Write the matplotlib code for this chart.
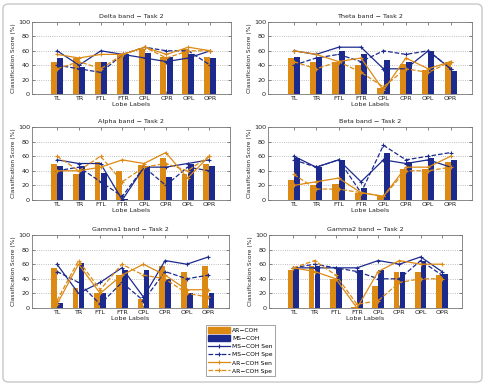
import matplotlib
matplotlib.use("Agg")
import matplotlib.pyplot as plt
import numpy as np
from matplotlib.patches import Patch, FancyBboxPatch
from matplotlib.lines import Line2D

lobes = ["TL", "TR", "FTL", "FTR", "CPL", "CPR", "OPL", "OPR"]

# each band: AR-COH bar, MS-COH bar, MS Sen, MS Spe, AR Sen, AR Spe
delta_ar = [45, 50, 45, 55, 62, 52, 62, 52]
delta_ms = [50, 37, 45, 55, 57, 52, 55, 50]
delta_ms_sen = [60, 40, 60, 55, 50, 45, 50, 60]
delta_ms_spe = [40, 35, 30, 55, 65, 60, 60, 40]
delta_ar_sen = [55, 50, 55, 55, 65, 55, 65, 60]
delta_ar_spe = [35, 45, 35, 55, 65, 50, 60, 60]

theta_ar = [50, 45, 45, 40, 8, 42, 33, 45]
theta_ms = [52, 52, 60, 55, 47, 45, 60, 32]
theta_ms_sen = [60, 55, 65, 65, 35, 35, 60, 35]
theta_ms_spe = [40, 50, 55, 45, 60, 55, 60, 35]
theta_ar_sen = [60, 55, 45, 50, 5, 50, 35, 45]
theta_ar_spe = [45, 35, 45, 30, 10, 35, 30, 45]

alpha_ar = [50, 35, 52, 40, 48, 57, 35, 50]
alpha_ms = [47, 47, 37, 2, 47, 32, 50, 47]
alpha_ms_sen = [55, 50, 50, 0, 45, 45, 50, 55]
alpha_ms_spe = [40, 45, 25, 5, 45, 20, 45, 40]
alpha_ar_sen = [40, 40, 45, 55, 50, 65, 30, 60]
alpha_ar_spe = [60, 40, 60, 25, 45, 50, 40, 60]

beta_ar = [27, 20, 22, 10, 5, 42, 42, 52]
beta_ms = [57, 45, 55, 17, 65, 52, 57, 55]
beta_ms_sen = [60, 45, 55, 25, 55, 50, 55, 45]
beta_ms_spe = [55, 45, 55, 10, 75, 55, 60, 65]
beta_ar_sen = [20, 25, 30, 10, 5, 45, 45, 60]
beta_ar_spe = [35, 15, 15, 10, 5, 40, 40, 45]

gamma1_ar = [55, 27, 20, 45, 12, 57, 50, 57]
gamma1_ms = [7, 62, 20, 52, 52, 40, 20, 20]
gamma1_ms_sen = [60, 20, 35, 55, 15, 65, 60, 70]
gamma1_ms_spe = [50, 35, 5, 35, 10, 50, 40, 45]
gamma1_ar_sen = [5, 60, 20, 45, 60, 45, 25, 25]
gamma1_ar_spe = [10, 65, 25, 60, 45, 40, 20, 15]

gamma2_ar = [52, 57, 40, 2, 30, 50, 50, 45]
gamma2_ms = [55, 57, 55, 52, 52, 50, 65, 47]
gamma2_ms_sen = [55, 55, 55, 55, 65, 60, 70, 50]
gamma2_ms_spe = [55, 60, 55, 50, 40, 40, 65, 45]
gamma2_ar_sen = [55, 50, 40, 0, 50, 65, 60, 60]
gamma2_ar_spe = [55, 65, 45, 5, 10, 35, 40, 40]

ORANGE = "#DC8A14"
BLUE = "#1C2A8E"
FS = 4.6


def draw_panel(ax, title, ar, ms, ms_sen, ms_spe, ar_sen, ar_spe):
    x = np.arange(len(lobes))
    ax.bar(x - 0.14, ar, width=0.27, color=ORANGE, edgecolor="none", zorder=2)
    ax.bar(x + 0.14, ms, width=0.27, color=BLUE, edgecolor="none", zorder=2)
    kw = dict(marker="+", markersize=3, markeredgewidth=0.8, linewidth=0.9, zorder=3)
    ax.plot(x, ms_sen, color=BLUE, linestyle="-", **kw)
    ax.plot(x, ms_spe, color=BLUE, linestyle="--", **kw)
    ax.plot(x, ar_sen, color=ORANGE, linestyle="-", **kw)
    ax.plot(x, ar_spe, color=ORANGE, linestyle="--", **kw)
    ax.set_xlim(-1.15, 7.95)
    ax.set_ylim(0, 100)
    ax.set_xticks(x)
    ax.set_xticklabels(lobes)
    ax.set_yticks([0, 20, 40, 60, 80, 100])
    ax.yaxis.grid(True, linestyle=":", color="#AAAAAA", linewidth=0.6, zorder=0)
    ax.set_axisbelow(True)
    ax.tick_params(direction="in", labelsize=FS, length=2, width=0.5,
                   top=True, right=True, pad=1.5, colors="#555555", labelcolor="#222222")
    for s in ax.spines.values():
        s.set_color("#777777")
        s.set_linewidth(0.6)
    ax.set_title(title, fontsize=FS, pad=3, color="#222222")
    ax.set_xlabel("Lobe Labels", fontsize=FS, labelpad=0.5, color="#222222")
    ax.set_ylabel("Classification Score (%)", fontsize=4.2, labelpad=1.5, color="#222222")


W, H = 487, 385
fig = plt.figure(figsize=(W / 100, H / 100), dpi=100)


def px_axes(left, right, top, bottom):
    return fig.add_axes([left / W, 1 - bottom / H, (right - left) / W, (bottom - top) / H])


border = FancyBboxPatch((3 / W, 3 / H), 479 / W, 378 / H, boxstyle="round,pad=0,rounding_size=0.012",
                        transform=fig.transFigure, facecolor="none", edgecolor="#C8C8C8",
                        linewidth=1.0)
fig.patches.append(border)

panels = [
    ((32, 231, 22, 94), "Delta band − Task 2", delta_ar, delta_ms, delta_ms_sen, delta_ms_spe, delta_ar_sen, delta_ar_spe),
    ((268, 472, 22, 94), "Theta band − Task 2", theta_ar, theta_ms, theta_ms_sen, theta_ms_spe, theta_ar_sen, theta_ar_spe),
    ((32, 230, 127, 200), "Alpha band − Task 2", alpha_ar, alpha_ms, alpha_ms_sen, alpha_ms_spe, alpha_ar_sen, alpha_ar_spe),
    ((268, 472, 127, 200), "Beta band − Task 2", beta_ar, beta_ms, beta_ms_sen, beta_ms_spe, beta_ar_sen, beta_ar_spe),
    ((32, 229, 235, 308), "Gamma1 band − Task 2", gamma1_ar, gamma1_ms, gamma1_ms_sen, gamma1_ms_spe, gamma1_ar_sen, gamma1_ar_spe),
    ((269, 462, 235, 308), "Gamma2 band − Task 2", gamma2_ar, gamma2_ms, gamma2_ms_sen, gamma2_ms_spe, gamma2_ar_sen, gamma2_ar_spe),
]

for box, title, *series in panels:
    ax = px_axes(*box)
    draw_panel(ax, title, *series)

lkw = dict(marker="+", markersize=3, markeredgewidth=0.8, linewidth=0.9)
handles = [
    Patch(color=ORANGE, label="AR−COH"),
    Patch(color=BLUE, label="MS−COH"),
    Line2D([], [], color=BLUE, linestyle="-", label="MS−COH Sen", **lkw),
    Line2D([], [], color=BLUE, linestyle="--", label="MS−COH Spe", **lkw),
    Line2D([], [], color=ORANGE, linestyle="-", label="AR−COH Sen", **lkw),
    Line2D([], [], color=ORANGE, linestyle="--", label="AR−COH Spe", **lkw),
]
leg = fig.legend(handles=handles, loc="upper left", bbox_to_anchor=(206 / W, 1 - 325 / H),
                 fontsize=4.3, frameon=True, fancybox=False, handlelength=3.6, handleheight=1.0,
                 labelspacing=0.4, borderpad=0.4, handletextpad=0.4, borderaxespad=0)
leg.get_frame().set_edgecolor("#777777")
leg.get_frame().set_linewidth(0.6)

fig.savefig("out.png", dpi=100)
